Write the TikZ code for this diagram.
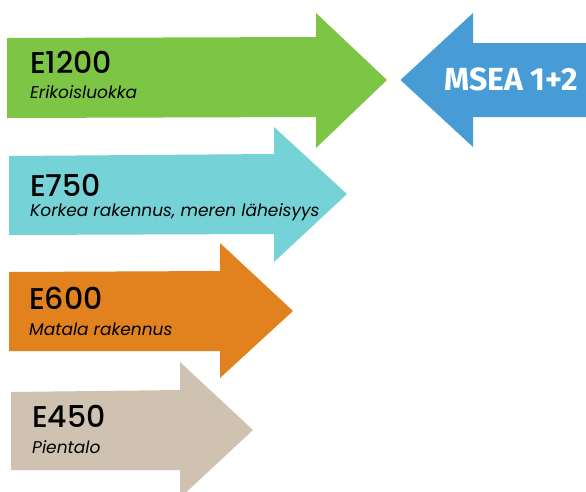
\documentclass[tikz,border=0pt]{standalone}
\usepackage{fontspec}
\setmainfont{Poppins}
\newfontfamily\pmed{Poppins Medium}
\newfontfamily\mseafont{Fira Sans}
\definecolor{cgreen}{HTML}{7DC544}
\definecolor{cblue}{HTML}{479CD6}
\definecolor{ccyan}{HTML}{75D3D8}
\definecolor{corange}{HTML}{E2821E}
\definecolor{cbeige}{HTML}{CFC2B1}
\tikzset{
  arrowfill/.style={fill=#1, draw=none},
  title/.style={anchor=base west, inner sep=0pt, font=\pmed\fontsize{30}{30}\selectfont},
  sub/.style={anchor=base west, inner sep=0pt, font=\itshape\fontsize{17}{17}\selectfont},
  mseatext/.style={anchor=base, inner sep=0pt, text=white, font=\mseafont\bfseries\fontsize{32}{32}\selectfont}
}
\begin{document}
\begin{tikzpicture}[x=1pt,y=-1pt]
\useasboundingbox (0,0) rectangle (586,491);
% arrows
\fill[arrowfill=cgreen] (7,38) -- (316,37) -- (316,13) -- (387,80) -- (316,148) -- (316,117) -- (7,118) -- cycle;
\fill[arrowfill=cblue] (586,43) -- (473,43) -- (473,13) -- (400.5,80) -- (473,147) -- (473,117) -- (586,117) -- cycle;
\fill[arrowfill=ccyan] (9,156) -- (274,154) -- (274,127) -- (347,194) -- (274,262) -- (274,234) -- (9,235) -- cycle;
\fill[arrowfill=corange] (9,272) -- (220,271) -- (220,243) -- (293,311) -- (220,378) -- (220,351) -- (9,351) -- cycle;
\fill[arrowfill=cbeige] (11,392) -- (180,390) -- (180,362) -- (253,430) -- (180,498) -- (180,470) -- (11,470) -- cycle;
% texts
\node[title] (t1) at (30,73) {E1200};
\node[sub] (s1) at (30,98) {Erikoisluokka};
\node[mseatext] (m) at (511,90) {MSEA 1+2};
\node[title] (t2) at (30,196) {E750};
\node[sub] (s2) at (30,216.7) {Korkea rakennus, meren läheisyys};
\node[title] (t3) at (29,309) {E600};
\node[sub] (s3) at (29,335) {Matala rakennus};
\node[title] (t4) at (32,427.7) {E450};
\node[sub] (s4) at (32,453) {Pientalo};
\end{tikzpicture}
\end{document}
